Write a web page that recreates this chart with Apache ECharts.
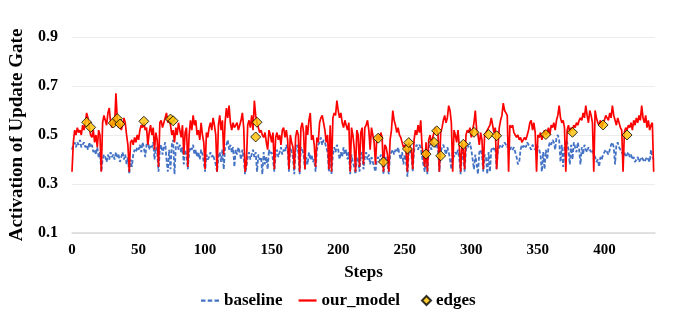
<!DOCTYPE html>
<html>
<head>
<meta charset="utf-8">
<script src="https://cdn.jsdelivr.net/npm/echarts@6/dist/echarts.min.js"></script>
<style>
  html, body { margin: 0; padding: 0; background: #fff; }
  #chart { width: 673px; height: 323px; }
</style>
</head>
<body>
<div id="chart"></div>
<script>
// values, one per step (0..437)
const ourModel = [
  0.35, 0.47, 0.52, 0.50, 0.53, 0.51, 0.52, 0.50, 0.54, 0.52,
  0.55, 0.59, 0.57, 0.53, 0.50, 0.49, 0.52, 0.47, 0.50, 0.45,
  0.52, 0.50, 0.35, 0.55, 0.58, 0.56, 0.54, 0.59, 0.61, 0.55,
  0.53, 0.56, 0.54, 0.67, 0.57, 0.53, 0.55, 0.52, 0.54, 0.57,
  0.55, 0.50, 0.46, 0.35, 0.47, 0.48, 0.46, 0.49, 0.47, 0.50,
  0.48, 0.52, 0.54, 0.53, 0.55, 0.52, 0.53, 0.46, 0.51, 0.54,
  0.50, 0.53, 0.44, 0.51, 0.48, 0.37, 0.55, 0.56, 0.53, 0.55,
  0.57, 0.59, 0.55, 0.57, 0.54, 0.50, 0.52, 0.47, 0.53, 0.50,
  0.55, 0.52, 0.49, 0.54, 0.42, 0.51, 0.53, 0.37, 0.50, 0.56,
  0.52, 0.58, 0.54, 0.56, 0.50, 0.52, 0.48, 0.55, 0.50, 0.47,
  0.36, 0.51, 0.49, 0.53, 0.55, 0.52, 0.57, 0.54, 0.50, 0.35,
  0.54, 0.58, 0.52, 0.56, 0.42, 0.55, 0.61, 0.57, 0.62, 0.55,
  0.52, 0.55, 0.53, 0.54, 0.55, 0.52, 0.54, 0.56, 0.59, 0.53,
  0.35, 0.38, 0.54, 0.56, 0.53, 0.58, 0.52, 0.64, 0.58, 0.55,
  0.53, 0.51, 0.52, 0.50, 0.49, 0.51, 0.47, 0.44, 0.52, 0.50,
  0.47, 0.51, 0.36, 0.49, 0.51, 0.48, 0.50, 0.46, 0.52, 0.53,
  0.49, 0.52, 0.48, 0.36, 0.50, 0.47, 0.45, 0.36, 0.49, 0.52,
  0.50, 0.35, 0.53, 0.55, 0.51, 0.36, 0.54, 0.50, 0.56, 0.59,
  0.48, 0.50, 0.46, 0.37, 0.49, 0.47, 0.55, 0.57, 0.58, 0.55,
  0.52, 0.47, 0.50, 0.36, 0.54, 0.35, 0.57, 0.59, 0.58, 0.64,
  0.60, 0.57, 0.59, 0.55, 0.53, 0.56, 0.54, 0.52, 0.55, 0.35,
  0.53, 0.50, 0.45, 0.35, 0.52, 0.50, 0.37, 0.51, 0.53, 0.38,
  0.53, 0.54, 0.56, 0.52, 0.44, 0.53, 0.50, 0.47, 0.38, 0.49,
  0.50, 0.48, 0.51, 0.49, 0.35, 0.46, 0.45, 0.42, 0.35, 0.48,
  0.52, 0.60, 0.56, 0.54, 0.51, 0.53, 0.50, 0.49, 0.47, 0.45,
  0.46, 0.43, 0.35, 0.47, 0.45, 0.44, 0.36, 0.48, 0.52, 0.50,
  0.54, 0.51, 0.56, 0.45, 0.42, 0.37, 0.47, 0.35, 0.48, 0.50,
  0.46, 0.49, 0.51, 0.53, 0.52, 0.50, 0.35, 0.51, 0.53, 0.56,
  0.58, 0.55, 0.57, 0.62, 0.60, 0.55, 0.35, 0.52, 0.50, 0.47,
  0.52, 0.45, 0.35, 0.47, 0.44, 0.36, 0.50, 0.52, 0.51, 0.53,
  0.49, 0.52, 0.55, 0.60, 0.52, 0.50, 0.46, 0.51, 0.48, 0.36,
  0.50, 0.51, 0.52, 0.53, 0.54, 0.57, 0.54, 0.51, 0.53, 0.36,
  0.45, 0.53, 0.56, 0.58, 0.63, 0.60, 0.59, 0.58, 0.35, 0.54,
  0.53, 0.54, 0.51, 0.50, 0.49, 0.50, 0.48, 0.49, 0.47, 0.48,
  0.49, 0.48, 0.50, 0.52, 0.55, 0.56, 0.52, 0.55, 0.51, 0.35,
  0.50, 0.49, 0.51, 0.48, 0.50, 0.52, 0.50, 0.51, 0.53, 0.50,
  0.54, 0.53, 0.55, 0.52, 0.56, 0.58, 0.62, 0.57, 0.55, 0.56,
  0.53, 0.35, 0.52, 0.54, 0.51, 0.53, 0.52, 0.54, 0.53, 0.55,
  0.54, 0.56, 0.57, 0.56, 0.59, 0.57, 0.62, 0.58, 0.55, 0.60,
  0.58, 0.55, 0.35, 0.60, 0.57, 0.55, 0.54, 0.56, 0.53, 0.55,
  0.56, 0.58, 0.57, 0.56, 0.59, 0.57, 0.62, 0.58, 0.56, 0.54,
  0.57, 0.55, 0.53, 0.52, 0.35, 0.51, 0.53, 0.52, 0.54, 0.53,
  0.55, 0.52, 0.56, 0.54, 0.57, 0.55, 0.58, 0.56, 0.62, 0.57,
  0.55, 0.58, 0.53, 0.56, 0.52, 0.54, 0.55, 0.35
];

const baseline = [
  0.44, 0.46, 0.47, 0.45, 0.47, 0.46, 0.48, 0.45, 0.46, 0.47,
  0.45, 0.46, 0.44, 0.47, 0.45, 0.46, 0.43, 0.44, 0.42, 0.45,
  0.41, 0.43, 0.35, 0.40, 0.42, 0.41, 0.39, 0.42, 0.40, 0.43,
  0.41, 0.42, 0.40, 0.43, 0.41, 0.42, 0.39, 0.41, 0.43, 0.40,
  0.42, 0.38, 0.41, 0.34, 0.40, 0.37, 0.42, 0.44, 0.43, 0.45,
  0.44, 0.46, 0.43, 0.47, 0.45, 0.41, 0.46, 0.48, 0.44, 0.46,
  0.45, 0.47, 0.40, 0.45, 0.43, 0.35, 0.44, 0.46, 0.42, 0.45,
  0.47, 0.40, 0.35, 0.44, 0.36, 0.46, 0.48, 0.34, 0.45, 0.47,
  0.44, 0.46, 0.43, 0.45, 0.38, 0.44, 0.42, 0.36, 0.43, 0.45,
  0.44, 0.46, 0.42, 0.44, 0.41, 0.43, 0.40, 0.44, 0.42, 0.39,
  0.35, 0.42, 0.40, 0.41, 0.43, 0.41, 0.42, 0.40, 0.38, 0.35,
  0.41, 0.43, 0.39, 0.44, 0.36, 0.45, 0.46, 0.48, 0.44, 0.46,
  0.43, 0.45, 0.37, 0.44, 0.42, 0.45, 0.43, 0.40, 0.44, 0.41,
  0.34, 0.37, 0.41, 0.43, 0.40, 0.42, 0.44, 0.41, 0.43, 0.35,
  0.42, 0.40, 0.41, 0.34, 0.43, 0.38, 0.41, 0.36, 0.44, 0.42,
  0.43, 0.40, 0.35, 0.42, 0.44, 0.41, 0.43, 0.45, 0.42, 0.44,
  0.43, 0.46, 0.44, 0.35, 0.45, 0.43, 0.41, 0.34, 0.44, 0.46,
  0.43, 0.34, 0.45, 0.44, 0.42, 0.36, 0.41, 0.38, 0.43, 0.40,
  0.42, 0.39, 0.40, 0.35, 0.44, 0.46, 0.47, 0.49, 0.46, 0.48,
  0.47, 0.45, 0.43, 0.35, 0.44, 0.34, 0.42, 0.45, 0.43, 0.46,
  0.44, 0.40, 0.43, 0.41, 0.45, 0.42, 0.44, 0.40, 0.43, 0.34,
  0.42, 0.39, 0.37, 0.34, 0.41, 0.40, 0.35, 0.42, 0.43, 0.36,
  0.41, 0.43, 0.40, 0.42, 0.38, 0.41, 0.39, 0.37, 0.35, 0.40,
  0.41, 0.39, 0.42, 0.40, 0.34, 0.39, 0.41, 0.38, 0.34, 0.42,
  0.43, 0.44, 0.42, 0.44, 0.43, 0.45, 0.42, 0.40, 0.43, 0.38,
  0.42, 0.39, 0.33, 0.43, 0.44, 0.42, 0.35, 0.44, 0.45, 0.46,
  0.44, 0.46, 0.45, 0.41, 0.38, 0.35, 0.43, 0.34, 0.45, 0.46,
  0.44, 0.46, 0.47, 0.45, 0.46, 0.44, 0.35, 0.43, 0.45, 0.46,
  0.44, 0.42, 0.45, 0.43, 0.40, 0.36, 0.44, 0.41, 0.43, 0.42,
  0.44, 0.40, 0.34, 0.43, 0.41, 0.35, 0.44, 0.46, 0.45, 0.47,
  0.44, 0.40, 0.36, 0.42, 0.38, 0.34, 0.43, 0.44, 0.42, 0.35,
  0.42, 0.41, 0.34, 0.43, 0.35, 0.44, 0.45, 0.44, 0.45, 0.36,
  0.44, 0.45, 0.46, 0.45, 0.46, 0.47, 0.46, 0.45, 0.47, 0.44,
  0.45, 0.44, 0.45, 0.43, 0.41, 0.38, 0.39, 0.44, 0.46, 0.45,
  0.46, 0.45, 0.47, 0.46, 0.45, 0.44, 0.46, 0.45, 0.44, 0.46,
  0.45, 0.44, 0.42, 0.35, 0.43, 0.36, 0.44, 0.40, 0.45, 0.47,
  0.46, 0.48, 0.47, 0.44, 0.49, 0.50, 0.48, 0.39, 0.46, 0.37,
  0.45, 0.48, 0.47, 0.44, 0.38, 0.46, 0.40, 0.47, 0.45, 0.43,
  0.47, 0.44, 0.38, 0.45, 0.42, 0.46, 0.44, 0.43, 0.45, 0.44,
  0.43, 0.44, 0.42, 0.41, 0.39, 0.40, 0.37, 0.41, 0.40, 0.42,
  0.43, 0.44, 0.43, 0.42, 0.44, 0.46, 0.47, 0.45, 0.38, 0.46,
  0.47, 0.45, 0.44, 0.43, 0.42, 0.43, 0.41, 0.42, 0.43, 0.41,
  0.42, 0.40, 0.41, 0.39, 0.40, 0.41, 0.39, 0.40, 0.41, 0.40,
  0.39, 0.40, 0.41, 0.40, 0.39, 0.44, 0.41, 0.40
];

// highlighted edge points
const edgeSteps = [11, 14, 31, 34, 36, 54, 74, 76, 138, 139, 230, 234, 252, 253,
  266, 272, 274, 277, 294, 302, 313, 319, 356, 376, 399, 417];
const edgeValues = [0.552, 0.531, 0.549, 0.567, 0.545, 0.556, 0.565, 0.558, 0.492, 0.552,
  0.487, 0.390, 0.443, 0.469, 0.422, 0.470, 0.517, 0.415, 0.462, 0.511,
  0.502, 0.497, 0.502, 0.511, 0.541, 0.500];

const yTicks = [0.1, 0.3, 0.5, 0.7, 0.9];

const font = 'Liberation Serif';
const legendText = { fontFamily: font, fontWeight: 'bold', fontSize: 17, color: '#000' };
const chart = echarts.init(document.getElementById('chart'));

const toPairs = arr => arr.map((v, i) => [i, v]);

chart.setOption({
  animation: false,
  grid: { left: 66, right: 18, top: 37, bottom: 90 },
  legend: [
    {
      left: 196,
      top: 287,
      itemWidth: 18,
      itemHeight: 10,
      itemGap: 16,
      textStyle: legendText,
      data: [
        { name: 'baseline', icon: 'path://M0,0 L4,0 L4,2 L0,2 Z M6,0 L10,0 L10,2 L6,2 Z M12,0 L16,0 L16,2 L12,2 Z', itemStyle: { color: '#4472C4' } },
        { name: 'our_model', icon: 'path://M0,0 L16,0 L16,2 L0,2 Z', itemStyle: { color: '#FF0000' } }
      ]
    },
    {
      left: 416,
      top: 287,
      itemWidth: 9,
      itemHeight: 9,
      textStyle: legendText,
      data: [{ name: 'edges', icon: 'diamond' }]
    }
  ],
  xAxis: {
    type: 'value',
    min: 0,
    max: 438,
    interval: 50,
    name: 'Steps',
    nameLocation: 'middle',
    nameGap: 31,
    nameTextStyle: { fontFamily: font, fontWeight: 'bold', fontSize: 17, color: '#000' },
    axisLine: { show: true, lineStyle: { color: '#d9d9d9', width: 1.5 } },
    axisTick: { show: false },
    splitLine: { show: false },
    axisLabel: {
      showMaxLabel: false,
      margin: 10,
      fontFamily: font, fontWeight: 'bold', fontSize: 15, color: '#000'
    }
  },
  yAxis: {
    type: 'value',
    min: yTicks[0],
    max: yTicks[yTicks.length - 1],
    interval: 0.2,
    name: 'Activation of Update Gate',
    nameLocation: 'middle',
    nameGap: 45,
    nameTextStyle: { fontFamily: font, fontWeight: 'bold', fontSize: 19, color: '#000' },
    axisLine: { show: false },
    axisTick: { show: false },
    splitLine: { lineStyle: { color: '#ececec', width: 1 } },
    axisLabel: {
      margin: 14,
      formatter: v => v.toFixed(1),
      fontFamily: font, fontWeight: 'bold', fontSize: 16, color: '#000'
    }
  },
  series: [
    {
      name: 'baseline',
      type: 'line',
      data: toPairs(baseline),
      showSymbol: false,
      lineStyle: { color: '#4472C4', width: 1.8, type: [4, 2] },
      itemStyle: { color: '#4472C4' },
      z: 2
    },
    {
      name: 'our_model',
      type: 'line',
      data: toPairs(ourModel),
      showSymbol: false,
      lineStyle: { color: '#FF0000', width: 1.7 },
      itemStyle: { color: '#FF0000' },
      z: 3
    },
    {
      name: 'edges',
      type: 'scatter',
      data: edgeSteps.map((s, i) => [s, edgeValues[i]]),
      symbol: 'diamond',
      symbolSize: 10,
      itemStyle: { color: '#FFC000', borderColor: '#000', borderWidth: 1 },
      z: 4
    }
  ]
});
</script>
</body>
</html>
